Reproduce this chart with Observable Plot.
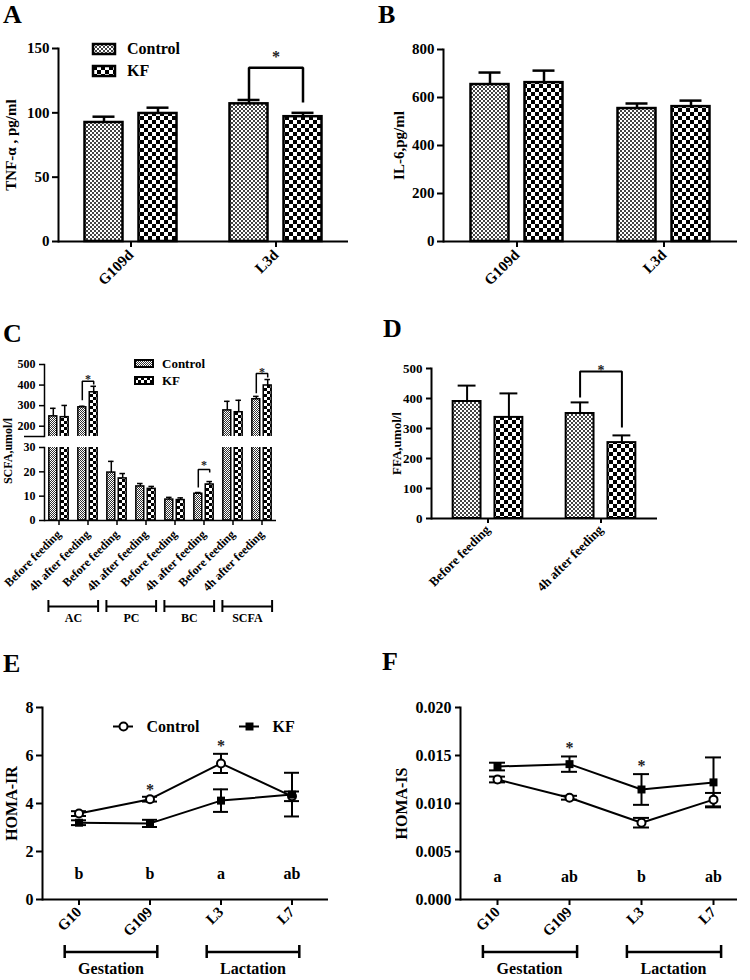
<!DOCTYPE html>
<html><head><meta charset="utf-8">
<script src="https://cdn.jsdelivr.net/npm/d3@7"></script>
<script src="https://cdn.jsdelivr.net/npm/@observablehq/plot@0.6"></script>
<style>
body{margin:0;background:#fff;}
#fig{position:relative;width:750px;height:980px;overflow:hidden;font-family:"Liberation Serif",serif;font-weight:bold;color:#000;background:#fff;}
.letter{position:absolute;font-size:26px;font-weight:bold;line-height:normal;}
.vlab{position:absolute;white-space:nowrap;transform:translate(-50%,-50%) rotate(-90deg);font-weight:bold;}
.leg, .leg *{font-family:"Liberation Serif",serif !important;font-weight:bold !important;color:#000 !important;}
.leg > div{margin:0 !important;}
.leg > div > div{display:flex !important;align-items:center !important;padding:0 !important;margin:0 !important;}
.leg svg{overflow:visible !important;}
.leg svg rect{stroke:#000;}
#legA, #legA *{font-size:16px !important;}
#legA > div > div{height:22px !important;}
#legA svg{margin-right:12px !important;}
#legA svg rect{stroke-width:2.5px;}
#legC, #legC *{font-size:13px !important;}
#legC > div > div{height:17px !important;}
#legC svg{margin-right:9px !important;}
#legC svg rect{stroke-width:2px;}
</style>
</head><body>
<svg width="0" height="0" style="position:absolute">
<defs>
<pattern id="pc" width="4" height="4" patternUnits="userSpaceOnUse"><rect width="4" height="4" fill="#fff"/><rect width="2" height="2" fill="#444"/><rect x="2" y="2" width="2" height="2" fill="#444"/></pattern>
<pattern id="pk" width="8" height="8" patternUnits="userSpaceOnUse"><rect width="8" height="8" fill="#fff"/><rect width="4" height="4" fill="#000"/><rect x="4" y="4" width="4" height="4" fill="#000"/></pattern>
<pattern id="pcs" width="2" height="2" patternUnits="userSpaceOnUse"><rect width="2" height="2" fill="#fff"/><rect width="1" height="1" fill="#333"/><rect x="1" y="1" width="1" height="1" fill="#333"/></pattern>
<pattern id="pks" width="6" height="6" patternUnits="userSpaceOnUse"><rect width="6" height="6" fill="#fff"/><rect width="3" height="3" fill="#000"/><rect x="3" y="3" width="3" height="3" fill="#000"/></pattern>
</defs></svg>
<div id="fig"></div>
<script>
// ---------------- data ----------------
const series = ["Control", "KF"];

// A: TNF-alpha
const tnfGroups = ["G109d", "L3d"];
const tnfControl = [92.5, 107];
const tnfControlErr = [4.5, 3];
const tnfKF = [99.5, 97];
const tnfKFErr = [4.5, 3];
const tnfTicks = [0, 50, 100, 150];
const tnfSig = [{group: "L3d", left: 110, right: 108, top: 135, star: 146}];

// B: IL-6
const il6Groups = ["G109d", "L3d"];
const il6Control = [654, 554];
const il6ControlErr = [50, 21];
const il6KF = [662, 562];
const il6KFErr = [50, 25];
const il6Ticks = [0, 200, 400, 600, 800];

// C: SCFA
const scfaAcids = ["AC", "PC", "BC", "SCFA"];
const scfaTimes = ["Before feeding", "4h after feeding"];
const scfaControl = [248, 292, 19.7, 14, 8.6, 11, 277, 331];
const scfaControlErr = [39, 5, 4.6, 1.2, 0.9, 0.5, 44, 14];
const scfaKF = [244, 365, 17.3, 13, 8.4, 14.8, 268, 398];
const scfaKFErr = [57, 29, 2, 1, 0.9, 1.2, 58, 29];
const scfaTicksLow = [0, 10, 20, 30];
const scfaTicksHigh = [200, 300, 400, 500];
const scfaSigHigh = [
  {group: "AC|4h after feeding", left: 326, right: 403, top: 418, star: 442},
  {group: "SCFA|4h after feeding", left: 360, right: 437, top: 456, star: 476}
];
const scfaSigLow = [{group: "BC|4h after feeding", left: 13.6, right: 19.7, top: 21, star: 23.8}];

// D: FFA
const ffaGroups = ["Before feeding", "4h after feeding"];
const ffaControl = [390, 350];
const ffaControlErr = [53, 37];
const ffaKF = [337, 253];
const ffaKFErr = [80, 24];
const ffaTicks = [0, 100, 200, 300, 400, 500];
const ffaSig = [{group: "4h after feeding", left: 403, right: 303, top: 490, star: 503}];

// E: HOMA-IR
const homaDays = ["G10", "G109", "L3", "L7"];
const irControl = [3.58, 4.18, 5.67, 4.3];
const irControlErr = [0.1, 0.1, 0.4, 0.2];
const irKF = [3.2, 3.17, 4.12, 4.37];
const irKFErr = [0.1, 0.15, 0.47, 0.91];
const irStars = [{day: "G109", y: 4.7}, {day: "L3", y: 6.54}];
const irLetters = ["b", "b", "a", "ab"];
const irTicks = [0, 2, 4, 6, 8];

// F: HOMA-IS
const isControl = [0.0125, 0.0106, 0.0080, 0.0104];
const isControlErr = [0.0003, 0.0002, 0.0005, 0.0007];
const isKF = [0.01385, 0.0141, 0.01146, 0.0122];
const isKFErr = [0.0004, 0.0008, 0.0016, 0.0026];
const isStars = [{day: "G109", y: 0.0161}, {day: "L3", y: 0.01427}];
const isLetters = ["a", "ab", "b", "ab"];
const isTicks = [0, 0.005, 0.010, 0.015, 0.020];

const phases = [{label: "Gestation", from: "G10", to: "G109"}, {label: "Lactation", from: "L3", to: "L7"}];

// ---------------- helpers ----------------
const fig = document.getElementById("fig");
function put(el, left, top) { el.style.position = "absolute"; el.style.left = left + "px"; el.style.top = top + "px"; fig.appendChild(el); return el; }
function html(cls, text, left, top, extra) { const d = document.createElement("div"); d.className = cls; d.textContent = text; d.style.left = left + "px"; d.style.top = top + "px"; if (extra) Object.assign(d.style, extra); fig.appendChild(d); return d; }
const svgStyle = {fontFamily: "Liberation Serif", fontWeight: "bold", background: "none", overflow: "visible", color: "#000"};
function tidy(groups, c, ce, k, ke) {
  return groups.flatMap((g, i) => [
    {group: g, series: "Control", value: c[i], err: ce[i]},
    {group: g, series: "KF", value: k[i], err: ke[i]}
  ]);
}
function pads(facetW, step, w) { const pi = (step - w) / step; return {paddingInner: pi, paddingOuter: (facetW / step - 2 + pi) / 2, round: false}; }
function barMarks(rows, sw, cap, clip = false) {
  return [
    Plot.barY(rows, {fx: "group", x: "series", y: "value", fill: "series", stroke: "#000", strokeWidth: sw, clip}),
    Plot.ruleX(rows, {fx: "group", x: "series", y1: "value", y2: d => d.value + d.err, stroke: "#000", strokeWidth: sw, clip}),
    Plot.tickY(rows, {fx: "group", x: "series", y: d => d.value + d.err, insetLeft: cap, insetRight: cap, stroke: "#000", strokeWidth: sw, clip})
  ];
}
// significance bracket drawn as a polyline Control(left) -> Control(top) -> KF(top) -> KF(right)
function sigMarks(sig, sw, fs) {
  const pts = sig.flatMap((s, i) => [
    {id: i, group: s.group, series: "Control", y: s.left},
    {id: i, group: s.group, series: "Control", y: s.top},
    {id: i, group: s.group, series: "KF", y: s.top},
    {id: i, group: s.group, series: "KF", y: s.right}
  ]);
  return [
    Plot.line(pts, {fx: "group", x: "series", y: "y", z: "id", stroke: "#000", strokeWidth: sw, strokeLinejoin: "miter", strokeLinecap: "butt"}),
    Plot.text(sig, {fx: "group", y: "star", text: () => "*", fontSize: fs, fill: "#222", dy: 3})
  ];
}
function homaRows(c, ce, k, ke) {
  return homaDays.flatMap((d, i) => [
    {day: d, series: "Control", value: c[i], err: ce[i]},
    {day: d, series: "KF", value: k[i], err: ke[i]}
  ]);
}
function homaMarks(rows, cap) {
  return [
    Plot.line(rows, {x: "day", y: "value", z: "series", stroke: "#000", strokeWidth: 2}),
    Plot.ruleX(rows, {x: "day", y1: d => d.value - d.err, y2: d => d.value + d.err, stroke: "#000", strokeWidth: 2}),
    Plot.tickY(rows, {x: "day", y: d => d.value + d.err, insetLeft: cap, insetRight: cap, stroke: "#000", strokeWidth: 2}),
    Plot.tickY(rows, {x: "day", y: d => d.value - d.err, insetLeft: cap, insetRight: cap, stroke: "#000", strokeWidth: 2}),
    Plot.dot(rows.filter(d => d.series === "Control"), {x: "day", y: "value", r: 4, fill: "#fff", stroke: "#000", strokeWidth: 2}),
    Plot.dot(rows.filter(d => d.series === "KF"), {x: "day", y: "value", r: 4.5, symbol: "square", fill: "#000"})
  ];
}
// group brackets below an axis: a band x scale, the rule runs from the start of the first band to the end of the last
function bracketPlot({width, ml, mr, domain, data, inL, inR, tickL, tickR, labelDx, labelDy, fontSize, sw, mt, mb, height}) {
  return Plot.plot({
    width, height, marginLeft: ml, marginRight: mr, marginTop: mt, marginBottom: mb, style: svgStyle,
    x: {type: "band", domain, padding: 0, axis: null},
    y: {domain: [0, 1], axis: null},
    marks: [
      Plot.ruleY(data, {x1: "from", x2: "to", y: () => 0.5, insetLeft: inL, insetRight: inR, stroke: "#000", strokeWidth: sw}),
      Plot.tickX(data, {x: "from", dx: tickL, stroke: "#000", strokeWidth: sw}),
      Plot.tickX(data, {x: "to", dx: tickR, stroke: "#000", strokeWidth: sw}),
      Plot.text(data, {x: "from", dx: labelDx, frameAnchor: "bottom", dy: labelDy, text: "label", fontSize, fill: "#000"})
    ]
  });
}
function swatchLegend(id, patterns, sw, sh) {
  const wrap = document.createElement("div");
  wrap.id = id; wrap.className = "leg";
  wrap.appendChild(Plot.legend({color: {type: "ordinal", domain: series, range: patterns}, columns: 1, swatchWidth: sw, swatchHeight: sh}));
  return wrap;
}

// ---------------- panel letters ----------------
html("letter", "A", 3, 0);
html("letter", "B", 378, 0);
html("letter", "C", 3, 319);
html("letter", "D", 383, 314);
html("letter", "E", 3, 649);
html("letter", "F", 382, 647);

// ---------------- A ----------------
const rowsA = tidy(tnfGroups, tnfControl, tnfControlErr, tnfKF, tnfKFErr);
put(Plot.plot({
  width: 375, height: 300, marginLeft: 58, marginRight: 27, marginTop: 48, marginBottom: 59,
  style: svgStyle,
  fx: {domain: tnfGroups, padding: 0},
  x: {domain: series, ...pads(145, 54, 38), axis: null},
  y: {domain: [0, 150]},
  color: {domain: series, range: ["url(#pc)", "url(#pk)"]},
  marks: [
    ...barMarks(rowsA, 2.5, 8),
    ...sigMarks(tnfSig, 2.5, 16),
    Plot.ruleY([0], {strokeWidth: 2}),
    Plot.frame({anchor: "left", strokeWidth: 2, facetAnchor: "left"}),
    Plot.axisY({ticks: tnfTicks, tickSize: 6, strokeWidth: 2, fontSize: 15, label: "TNF-α , pg/ml", labelAnchor: "center", labelOffset: 53, labelArrow: "none"}),
    Plot.axisFx({anchor: "bottom", tickRotate: -45, tickSize: 6, tickPadding: 5, strokeWidth: 2, fontSize: 15, label: null})
  ]
}), 0, 0);
put(swatchLegend("legA", ["url(#pc)", "url(#pk)"], 22, 10), 93, 38);

// ---------------- B ----------------
const rowsB = tidy(il6Groups, il6Control, il6ControlErr, il6KF, il6KFErr);
put(Plot.plot({
  width: 375, height: 300, marginLeft: 68, marginRight: 13, marginTop: 49, marginBottom: 59,
  style: svgStyle,
  fx: {domain: il6Groups, padding: 0},
  x: {domain: series, ...pads(147, 54, 38), axis: null},
  y: {domain: [0, 800]},
  color: {domain: series, range: ["url(#pc)", "url(#pk)"]},
  marks: [
    ...barMarks(rowsB, 2.5, 8),
    Plot.ruleY([0], {strokeWidth: 2}),
    Plot.frame({anchor: "left", strokeWidth: 2, facetAnchor: "left"}),
    Plot.axisY({ticks: il6Ticks, tickSize: 6, strokeWidth: 2, fontSize: 15, label: "IL-6,pg/ml", labelAnchor: "center", labelOffset: 50, labelArrow: "none"}),
    Plot.axisFx({anchor: "bottom", tickRotate: -45, tickSize: 6, tickPadding: 5, strokeWidth: 2, fontSize: 15, label: null})
  ]
}), 375, 0);

// ---------------- C ----------------
const scfaKeys = scfaAcids.flatMap(a => scfaTimes.map(t => a + "|" + t));
const rowsC = tidy(scfaKeys, scfaControl, scfaControlErr, scfaKF, scfaKFErr);
const cOpts = {
  style: svgStyle,
  x: {domain: series, ...pads(29.25, 11.5, 8), axis: null},
  color: {domain: series, range: ["url(#pcs)", "url(#pks)"]}
};
put(Plot.plot({
  ...cOpts,
  width: 300, height: 100, marginLeft: 43, marginRight: 23, marginTop: 24, marginBottom: 4,
  fx: {domain: scfaKeys, padding: 0, axis: null},
  y: {domain: [150, 500]},
  marks: [
    ...barMarks(rowsC, 1.5, 1.2, true),
    ...sigMarks(scfaSigHigh, 1.5, 12),
    Plot.frame({anchor: "left", strokeWidth: 1.5, facetAnchor: "left"}),
    Plot.axisY({ticks: scfaTicksHigh, tickSize: 5, strokeWidth: 1.5, fontSize: 12, label: null}),
    Plot.axisY({ticks: [150], tickSize: 20, strokeWidth: 1.5, tickFormat: () => "", label: null})
  ]
}), 0, 340);
put(Plot.plot({
  ...cOpts,
  width: 300, height: 160, marginLeft: 43, marginRight: 23, marginTop: 7, marginBottom: 80,
  fx: {domain: scfaKeys, padding: 0},
  y: {domain: [0, 30]},
  marks: [
    ...barMarks(rowsC, 1.5, 1.2, true),
    ...sigMarks(scfaSigLow, 1.5, 12),
    Plot.ruleY([0], {strokeWidth: 1.5}),
    Plot.frame({anchor: "left", strokeWidth: 1.5, facetAnchor: "left"}),
    Plot.axisY({ticks: scfaTicksLow, tickSize: 5, strokeWidth: 1.5, fontSize: 12, label: null}),
    Plot.axisFx({anchor: "bottom", tickRotate: -45, tickSize: 5, strokeWidth: 1.5, fontSize: 12, label: null, tickFormat: d => d.split("|")[1]})
  ]
}), 0, 440);
const scfaBrackets = scfaAcids.map(a => ({label: a, from: a + "|" + scfaTimes[0], to: a + "|" + scfaTimes[1]}));
put(bracketPlot({width: 300, height: 40, ml: 43, mr: 23, mt: 10, mb: 18, domain: scfaKeys, data: scfaBrackets,
  inL: 4, inR: 4.5, tickL: -10.6, tickR: 10.1, labelDx: 14.4, labelDy: 9, fontSize: 12, sw: 2}), 0, 590);
html("vlab", "SCFA,umol/l", 8, 451, {fontSize: "12px"});
put(swatchLegend("legC", ["url(#pcs)", "url(#pks)"], 18, 7), 135, 355);

// ---------------- D ----------------
const rowsD = tidy(ffaGroups, ffaControl, ffaControlErr, ffaKF, ffaKFErr);
put(Plot.plot({
  width: 375, height: 340, marginLeft: 55, marginRight: 93, marginTop: 68, marginBottom: 122,
  style: svgStyle,
  fx: {domain: ffaGroups, padding: 0},
  x: {domain: series, ...pads(113.5, 42, 28), axis: null},
  y: {domain: [0, 500]},
  color: {domain: series, range: ["url(#pc)", "url(#pk)"]},
  marks: [
    ...barMarks(rowsD, 2, 5),
    ...sigMarks(ffaSig, 2, 14),
    Plot.ruleY([0], {strokeWidth: 2}),
    Plot.frame({anchor: "left", strokeWidth: 2, facetAnchor: "left"}),
    Plot.axisY({ticks: ffaTicks, tickSize: 5, strokeWidth: 2, fontSize: 13, label: "FFA,umol/l", labelAnchor: "center", labelOffset: 40, labelArrow: "none"}),
    Plot.axisFx({anchor: "bottom", tickRotate: -45, tickSize: 5, tickPadding: 4, strokeWidth: 2, fontSize: 13, label: null})
  ]
}), 375, 300);

// ---------------- E ----------------
const irRows = homaRows(irControl, irControlErr, irKF, irKFErr);
put(Plot.plot({
  width: 375, height: 300, marginLeft: 42, marginRight: 47, marginTop: 67, marginBottom: 41,
  style: svgStyle,
  x: {type: "band", domain: homaDays, padding: 0},
  y: {domain: [0, 8]},
  marks: [
    Plot.ruleY([0], {strokeWidth: 2}),
    Plot.frame({anchor: "left", strokeWidth: 2}),
    ...homaMarks(irRows, 28),
    Plot.text(irStars, {x: "day", y: "y", text: () => "*", fontSize: 16, fill: "#222", dy: 3}),
    Plot.text(homaDays, {x: d => d, frameAnchor: "bottom", dy: -21, text: (d, i) => irLetters[i], fontSize: 16, fill: "#000"}),
    Plot.axisY({ticks: irTicks, tickSize: 6, strokeWidth: 2, fontSize: 16, label: "HOMA-IR", labelAnchor: "center", labelOffset: 37, labelArrow: "none"}),
    Plot.axisX({anchor: "bottom", tickRotate: -45, tickSize: 6, tickPadding: 4, strokeWidth: 2, fontSize: 15, label: null})
  ]
}), 0, 640);
put(bracketPlot({width: 375, height: 40, ml: 42, mr: 47, mt: 5, mb: 22, domain: homaDays, data: phases,
  inL: 21.5, inR: 28.5, tickL: -14.3, tickR: 7.3, labelDx: 32, labelDy: 15, fontSize: 16, sw: 2.5}), 0, 940);
put(Plot.plot({
  width: 300, height: 20, margin: 0, style: svgStyle,
  x: {type: "band", domain: series, range: [0, 252], padding: 0, axis: null},
  y: {domain: [0, 1], axis: null},
  marks: [
    Plot.tickY(series, {x: d => d, y: () => 0.5, insetRight: 106, stroke: "#000", strokeWidth: 2}),
    Plot.dot(["Control"], {x: d => d, y: () => 0.5, dx: -53, r: 4, fill: "#fff", stroke: "#000", strokeWidth: 2}),
    Plot.dot(["KF"], {x: d => d, y: () => 0.5, dx: -53, r: 4.5, symbol: "square", fill: "#000"}),
    Plot.text(series, {x: d => d, y: () => 0.5, dx: -30, textAnchor: "start", text: d => d, fontSize: 16, fill: "#000"})
  ]
}), 113, 716);

// ---------------- F ----------------
const isRows = homaRows(isControl, isControlErr, isKF, isKFErr);
put(Plot.plot({
  width: 375, height: 300, marginLeft: 85, marginRight: 1, marginTop: 67, marginBottom: 41,
  style: svgStyle,
  x: {type: "band", domain: homaDays, padding: 0},
  y: {domain: [0, 0.02]},
  marks: [
    Plot.ruleY([0], {strokeWidth: 2, insetRight: 12}),
    Plot.frame({anchor: "left", strokeWidth: 2}),
    ...homaMarks(isRows, 28),
    Plot.text(isStars, {x: "day", y: "y", text: () => "*", fontSize: 16, fill: "#222", dy: 3}),
    Plot.text(homaDays, {x: d => d, frameAnchor: "bottom", dy: -18, text: (d, i) => isLetters[i], fontSize: 16, fill: "#000"}),
    Plot.axisY({ticks: isTicks, tickSize: 5, strokeWidth: 2, fontSize: 16, tickFormat: d3.format(".3f"), label: "HOMA-IS", labelAnchor: "center", labelOffset: 65, labelArrow: "none"}),
    Plot.axisX({anchor: "bottom", tickRotate: -45, tickSize: 6, tickPadding: 4, strokeWidth: 2, fontSize: 15, label: null})
  ]
}), 375, 640);
put(bracketPlot({width: 375, height: 40, ml: 85, mr: 1, mt: 5, mb: 22, domain: homaDays, data: phases,
  inL: 21.5, inR: 28.5, tickL: -14.6, tickR: 7.6, labelDx: 32, labelDy: 15, fontSize: 16, sw: 2.5}), 375, 940);
</script>
</body></html>
